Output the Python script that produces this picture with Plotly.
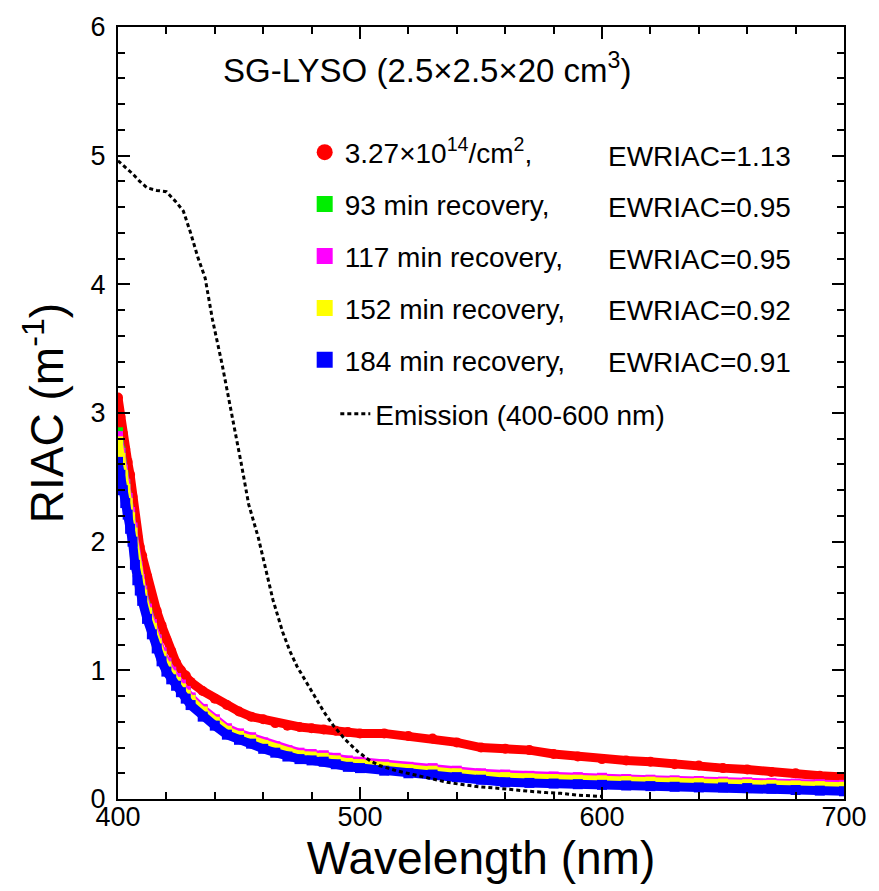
import plotly.graph_objects as go

# ---------------- data ----------------
wavelength = [400, 401, 402, 403, 404, 405, 406, 407, 408, 409, 410, 412, 414, 416, 418,
              420, 422, 424, 426, 428, 430, 435, 440, 445, 450, 455, 460, 465, 470, 475,
              480, 485, 490, 495, 500, 510, 520, 530, 540, 550, 560, 570, 580, 590, 600,
              610, 620, 630, 640, 650, 660, 670, 680, 690, 700]

riac_irradiated = [3.12, 2.97, 2.84, 2.72, 2.62, 2.52, 2.35, 2.18, 2.04, 1.96, 1.89, 1.73, 1.56, 1.46, 1.35,
                   1.24, 1.15, 1.06, 1.00, 0.96, 0.91, 0.84, 0.78, 0.73, 0.68, 0.64, 0.62, 0.59, 0.57, 0.56,
                   0.55, 0.54, 0.53, 0.52, 0.51, 0.51, 0.49, 0.47, 0.44, 0.40, 0.39, 0.38, 0.35, 0.33, 0.31,
                   0.30, 0.29, 0.27, 0.26, 0.24, 0.23, 0.21, 0.20, 0.18, 0.17]

riac_93min = [2.85, 2.70, 2.55, 2.44, 2.33, 2.22, 2.10, 1.92, 1.80, 1.70, 1.62, 1.47, 1.35, 1.24, 1.13,
              1.05, 0.98, 0.93, 0.88, 0.83, 0.78, 0.69, 0.61, 0.54, 0.50, 0.47, 0.43, 0.40, 0.37, 0.35,
              0.34, 0.33, 0.31, 0.29, 0.28, 0.26, 0.24, 0.23, 0.21, 0.19, 0.18, 0.17, 0.165, 0.16, 0.155,
              0.15, 0.14, 0.135, 0.13, 0.125, 0.12, 0.115, 0.11, 0.105, 0.10]

riac_117min = [2.82, 2.69, 2.56, 2.45, 2.34, 2.23, 2.11, 1.93, 1.81, 1.71, 1.62, 1.48, 1.36, 1.24, 1.14,
               1.06, 0.99, 0.94, 0.89, 0.84, 0.79, 0.70, 0.62, 0.55, 0.51, 0.48, 0.44, 0.41, 0.38, 0.36,
               0.35, 0.34, 0.32, 0.30, 0.29, 0.27, 0.25, 0.24, 0.22, 0.20, 0.19, 0.18, 0.175, 0.17, 0.165,
               0.155, 0.15, 0.145, 0.14, 0.135, 0.13, 0.125, 0.12, 0.115, 0.11]

riac_152min = [2.78, 2.65, 2.52, 2.41, 2.30, 2.19, 2.07, 1.89, 1.77, 1.67, 1.59, 1.45, 1.33, 1.21, 1.11,
               1.03, 0.96, 0.91, 0.86, 0.81, 0.77, 0.68, 0.60, 0.53, 0.49, 0.46, 0.42, 0.39, 0.36, 0.34,
               0.33, 0.32, 0.30, 0.28, 0.27, 0.25, 0.23, 0.22, 0.20, 0.18, 0.17, 0.16, 0.155, 0.15, 0.145,
               0.14, 0.135, 0.13, 0.125, 0.12, 0.115, 0.11, 0.105, 0.10, 0.095]

riac_184min = [2.62, 2.52, 2.40, 2.30, 2.21, 2.10, 2.00, 1.82, 1.70, 1.62, 1.54, 1.40, 1.28, 1.17, 1.07,
               0.99, 0.93, 0.88, 0.83, 0.78, 0.73, 0.64, 0.57, 0.50, 0.46, 0.43, 0.39, 0.36, 0.33, 0.31,
               0.30, 0.29, 0.27, 0.25, 0.24, 0.22, 0.20, 0.19, 0.17, 0.15, 0.13, 0.125, 0.12, 0.115, 0.11,
               0.105, 0.10, 0.095, 0.09, 0.09, 0.085, 0.08, 0.07, 0.065, 0.06]

emission_wl = [400, 403, 406, 409, 412, 416, 420, 424, 427, 430, 433, 436, 439, 443, 447,
               451, 454, 458, 461, 464, 468, 471, 474, 478, 481, 485, 489, 494, 499, 504,
               508, 515, 522, 529, 536, 543, 549, 556, 563, 570, 577, 583, 590, 595, 600]
emission = [4.96, 4.91, 4.86, 4.80, 4.75, 4.73, 4.72, 4.64, 4.57, 4.40, 4.21, 4.05, 3.73, 3.38, 3.00,
            2.60, 2.29, 2.03, 1.79, 1.55, 1.30, 1.15, 1.03, 0.90, 0.81, 0.68, 0.57, 0.46, 0.37, 0.30,
            0.26, 0.22, 0.19, 0.16, 0.13, 0.11, 0.095, 0.085, 0.07, 0.06, 0.05, 0.044, 0.03, 0.025, 0.02]

series_names = ["3.27×10<sup>14</sup>/cm<sup>2</sup>,", "93 min recovery,", "117 min recovery,",
                "152 min recovery,", "184 min recovery,"]
ewriac_labels = ["EWRIAC=1.13", "EWRIAC=0.95", "EWRIAC=0.95", "EWRIAC=0.92", "EWRIAC=0.91"]
emission_name = "Emission (400-600 nm)"
title_text = "SG-LYSO (2.5×2.5×20 cm<sup>3</sup>)"

colors = ["#ff0000", "#00ee00", "#ff00ff", "#ffff00", "#0000ff"]
symbols = ["circle", "square", "square", "square", "square"]
series_values = [riac_irradiated, riac_93min, riac_117min, riac_152min, riac_184min]

FONT = "Arial, Liberation Sans, Helvetica, sans-serif"

fig = go.Figure()

for vals, col, sym in zip(series_values, colors, symbols):
    fig.add_trace(go.Scatter(
        x=wavelength, y=vals, mode="lines+markers",
        line=dict(color=col, width=9),
        marker=dict(color=col, symbol=sym, size=10, line=dict(width=0)),
        showlegend=False, hoverinfo="skip"))

fig.add_trace(go.Scatter(
    x=emission_wl, y=emission, mode="lines",
    line=dict(color="black", width=3, dash="4px,3px"),
    showlegend=False))

# legend-only entries (larger symbols)
for i, (name, col, sym) in enumerate(zip(series_names, colors, symbols)):
    fig.add_trace(go.Scatter(
        x=[None], y=[None], mode="markers", name=name,
        marker=dict(color=col, symbol=sym, size=16, line=dict(width=0)),
        legendgroup="g%d" % i, showlegend=True, legend="legend"))
fig.add_trace(go.Scatter(
    x=[None], y=[None], mode="lines", name=emission_name,
    line=dict(color="black", width=3, dash="4px,3px"),
    showlegend=True, legend="legend2"))

# plot-area geometry (pixels)
L, R, T, B = 118, 26, 23, 92
W, H = 879, 891
pw, ph = W - L - R, H - T - B

def px_x(x):
    return (x - L) / pw

def px_y(y):
    return (H - B - y) / ph

row_y = [152.7, 204.5, 256.3, 308.1, 359.9]
for lab, yy in zip(ewriac_labels, row_y):
    fig.add_annotation(x=px_x(612), y=px_y(yy), xref="paper", yref="paper",
                       text=lab, showarrow=False, xanchor="left", yanchor="middle",
                       font=dict(size=28, color="black", family=FONT))

fig.add_annotation(x=px_x(431), y=px_y(64), xref="paper", yref="paper",
                   text=title_text, showarrow=False, xanchor="center", yanchor="middle",
                   font=dict(size=33, color="black", family=FONT))

axis_common = dict(
    showline=True, linecolor="black", linewidth=2, mirror="ticks",
    ticks="inside", ticklen=12, tickwidth=2, tickcolor="black",
    showgrid=False, zeroline=False,
    tickfont=dict(size=27, color="black", family=FONT),
)

fig.update_xaxes(range=[400, 700], dtick=100, tick0=400, ticklabelstandoff=-7,
                 minor=dict(dtick=20, ticks="inside", ticklen=7, tickwidth=2, tickcolor="black"),
                 title=dict(text="Wavelength (nm)", font=dict(size=46, color="black", family=FONT), standoff=10),
                 **axis_common)
fig.update_yaxes(range=[0, 6], dtick=1, tick0=0, ticklabelstandoff=5,
                 minor=dict(dtick=0.2, ticks="inside", ticklen=7, tickwidth=2, tickcolor="black"),
                 title=dict(text="RIAC (m<sup>-1</sup>)", font=dict(size=46, color="black", family=FONT), standoff=12),
                 **axis_common)

fig.update_layout(
    width=W, height=H,
    margin=dict(l=L, r=R, t=T, b=B),
    plot_bgcolor="white", paper_bgcolor="white",
    legend=dict(x=px_x(307), y=px_y(124), xanchor="left", yanchor="top",
                bgcolor="rgba(0,0,0,0)", borderwidth=0, tracegroupgap=12.5,
                font=dict(size=28, color="black", family=FONT)),
    legend2=dict(x=px_x(338), y=px_y(412), xanchor="left", yanchor="middle",
                 bgcolor="rgba(0,0,0,0)", borderwidth=0,
                 font=dict(size=28, color="black", family=FONT)),
)

fig.write_html("out.html")
